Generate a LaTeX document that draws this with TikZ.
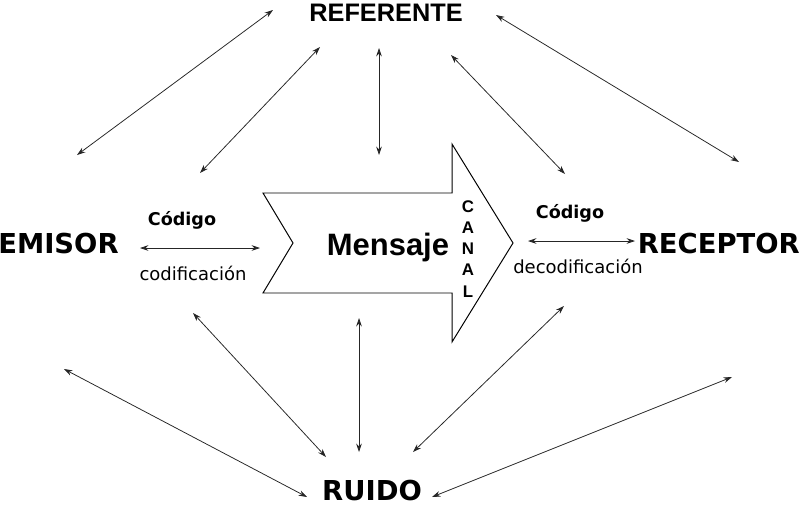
\documentclass[tikz,border=0pt]{standalone}
\usepackage{fontspec}
\setmainfont{Liberation Sans}
\newfontfamily\verdana{DejaVu Sans}
\usetikzlibrary{arrows.meta}

\begin{document}
\begin{tikzpicture}[x=0.025cm, y=-0.025cm, >={Stealth[length=6pt,width=4pt]},
  every node/.style={inner sep=0pt},
  link/.style={<->, line width=0.55pt, black!85},
  actor/.style={font=\verdana\bfseries\fontsize{19.5}{22}\selectfont},
  codigo/.style={font=\verdana\bfseries\fontsize{12.5}{14}\selectfont},
  proceso/.style={font=\verdana\fontsize{12.8}{14}\selectfont}]
\useasboundingbox (0,0) rectangle (800,507);

\node[anchor=base] (ref) at (386,21) {\bfseries\fontsize{18}{20}\selectfont REFERENTE};
\node[actor, anchor=base west] (emi) at (-2,253) {EMISOR};
\node[actor, anchor=base east] (rec) at (800,253) {RECEPTOR};
\node[actor, anchor=base] (rui) at (372,500) {RUIDO};

\node[codigo, anchor=base] (cod1) at (182,225) {Código};
\node[proceso, anchor=base] (codif) at (193,280) {codificación};
\node[codigo, anchor=base] (cod2) at (570,218) {Código};
\node[proceso, anchor=base] (decodif) at (578,273) {decodificación};

% canal
\draw[line width=0.7pt] (263,193) -- (452,193) -- (452,144) -- (513,243)
  -- (452,342) -- (452,293) -- (263,293) -- (293,243) -- cycle;
\node[anchor=base] (men) at (388,255) {\bfseries\fontsize{22}{24}\selectfont Mensaje};
\node[align=center, font=\bfseries\fontsize{12}{15}\selectfont] (canal) at (468,249)
  {C\\A\\N\\A\\L};

% referente
\coordinate (t1a) at (77,155);  \coordinate (t1b) at (273,10);
\coordinate (t2a) at (200,173); \coordinate (t2b) at (320,47);
\coordinate (t3a) at (379,155); \coordinate (t3b) at (379,48);
\coordinate (t4a) at (565,174); \coordinate (t4b) at (451,55);
\coordinate (t5a) at (739,162); \coordinate (t5b) at (496,15);
% ruido
\coordinate (b1a) at (64,369);  \coordinate (b1b) at (307,497);
\coordinate (b2a) at (193,313); \coordinate (b2b) at (326,457);
\coordinate (b3a) at (359,318); \coordinate (b3b) at (359,452);
\coordinate (b4a) at (564,306); \coordinate (b4b) at (413,452);
\coordinate (b5a) at (732,377); \coordinate (b5b) at (432,497);
% codigo
\coordinate (h1a) at (140,248); \coordinate (h1b) at (260,248);
\coordinate (h2a) at (528,241); \coordinate (h2b) at (635,241);

\foreach \i in {1,...,5} {
  \draw[link] (t\i a) -- (t\i b);
  \draw[link] (b\i a) -- (b\i b);
}
\foreach \i in {1,2}
  \draw[link] (h\i a) -- (h\i b);
\end{tikzpicture}
\end{document}
